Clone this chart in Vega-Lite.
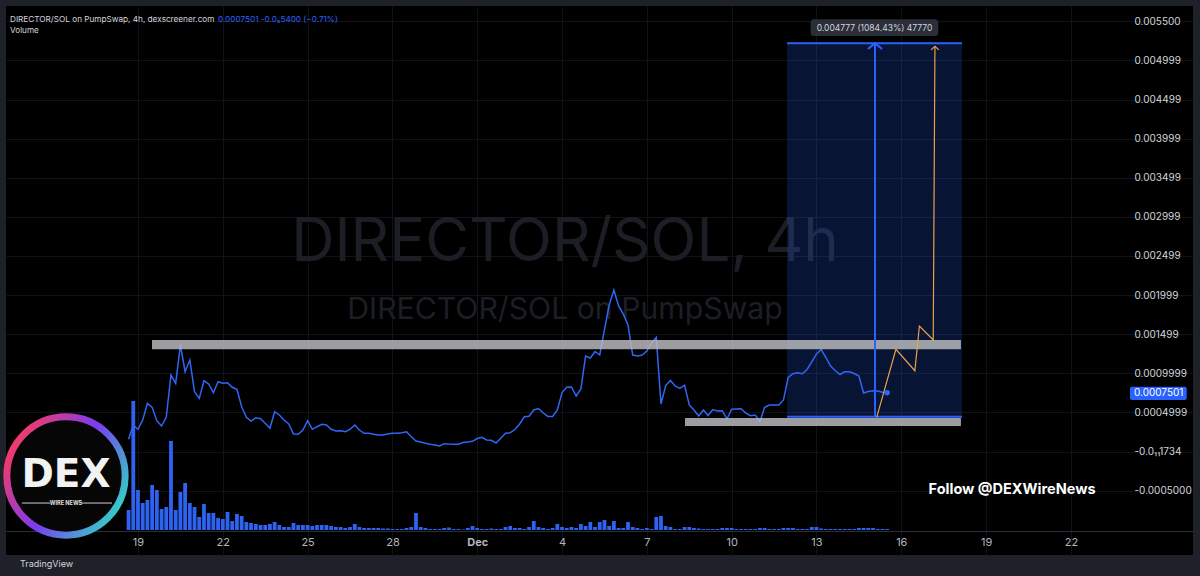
{
"$schema": "https://vega.github.io/schema/vega-lite/v6.json",
"width": 1187, "height": 549,
"autosize": {"type": "none"},
"padding": {"left": 6, "top": 6, "right": 7, "bottom": 21},
"background": "#1f2128",
"config": {"view": {"fill": "#000000", "stroke": null}, "font": "Inter", "text": {"font": "Inter"}},
"title": {"text": "TradingView", "orient": "bottom", "anchor": "start", "frame": "group", "offset": 5, "dx": 14, "color": "#d1d4dc", "fontSize": 9, "fontWeight": "normal", "font": "Inter"},
"datasets": {
"main": [
{"t":"2025-11-18T16:00Z","p":0.000156,"v":20},
{"t":"2025-11-18T20:00Z","p":0.000339,"v":129},
{"t":"2025-11-19T00:00Z","p":0.000284,"v":40},
{"t":"2025-11-19T04:00Z","p":0.000403,"v":27},
{"t":"2025-11-19T08:00Z","p":0.000616,"v":30},
{"t":"2025-11-19T12:00Z","p":0.000565,"v":45},
{"t":"2025-11-19T16:00Z","p":0.000394,"v":40},
{"t":"2025-11-19T20:00Z","p":0.000326,"v":21},
{"t":"2025-11-20T00:00Z","p":0.000437,"v":23},
{"t":"2025-11-20T04:00Z","p":0.000978,"v":89},
{"t":"2025-11-20T08:00Z","p":0.000872,"v":20},
{"t":"2025-11-20T12:00Z","p":0.001362,"v":38},
{"t":"2025-11-20T16:00Z","p":0.001020,"v":47},
{"t":"2025-11-20T20:00Z","p":0.001170,"v":27},
{"t":"2025-11-21T00:00Z","p":0.000765,"v":23},
{"t":"2025-11-21T04:00Z","p":0.000680,"v":13},
{"t":"2025-11-21T08:00Z","p":0.000905,"v":26},
{"t":"2025-11-21T12:00Z","p":0.000863,"v":17},
{"t":"2025-11-21T16:00Z","p":0.000752,"v":17},
{"t":"2025-11-21T20:00Z","p":0.000893,"v":12},
{"t":"2025-11-22T00:00Z","p":0.000872,"v":11},
{"t":"2025-11-22T04:00Z","p":0.000880,"v":18},
{"t":"2025-11-22T08:00Z","p":0.000821,"v":9},
{"t":"2025-11-22T12:00Z","p":0.000795,"v":16},
{"t":"2025-11-22T16:00Z","p":0.000573,"v":14},
{"t":"2025-11-22T20:00Z","p":0.000437,"v":8},
{"t":"2025-11-23T00:00Z","p":0.000390,"v":7},
{"t":"2025-11-23T04:00Z","p":0.000432,"v":6},
{"t":"2025-11-23T08:00Z","p":0.000419,"v":5},
{"t":"2025-11-23T12:00Z","p":0.000361,"v":5},
{"t":"2025-11-23T16:00Z","p":0.000297,"v":6},
{"t":"2025-11-23T20:00Z","p":0.000509,"v":8},
{"t":"2025-11-24T00:00Z","p":0.000467,"v":5},
{"t":"2025-11-24T04:00Z","p":0.000403,"v":3},
{"t":"2025-11-24T08:00Z","p":0.000352,"v":3},
{"t":"2025-11-24T12:00Z","p":0.000224,"v":7},
{"t":"2025-11-24T16:00Z","p":0.000220,"v":5},
{"t":"2025-11-24T20:00Z","p":0.000275,"v":5},
{"t":"2025-11-25T00:00Z","p":0.000394,"v":5},
{"t":"2025-11-25T04:00Z","p":0.000284,"v":4},
{"t":"2025-11-25T08:00Z","p":0.000317,"v":5},
{"t":"2025-11-25T12:00Z","p":0.000348,"v":5},
{"t":"2025-11-25T16:00Z","p":0.000339,"v":5},
{"t":"2025-11-25T20:00Z","p":0.000284,"v":4},
{"t":"2025-11-26T00:00Z","p":0.000262,"v":3},
{"t":"2025-11-26T04:00Z","p":0.000266,"v":3},
{"t":"2025-11-26T08:00Z","p":0.000253,"v":2},
{"t":"2025-11-26T12:00Z","p":0.000284,"v":3},
{"t":"2025-11-26T16:00Z","p":0.000339,"v":6},
{"t":"2025-11-26T20:00Z","p":0.000275,"v":3},
{"t":"2025-11-27T00:00Z","p":0.000233,"v":2},
{"t":"2025-11-27T04:00Z","p":0.000233,"v":2},
{"t":"2025-11-27T08:00Z","p":0.000220,"v":2},
{"t":"2025-11-27T12:00Z","p":0.000211,"v":2},
{"t":"2025-11-27T16:00Z","p":0.000211,"v":1.5},
{"t":"2025-11-27T20:00Z","p":0.000224,"v":1.5},
{"t":"2025-11-28T00:00Z","p":0.000233,"v":1},
{"t":"2025-11-28T04:00Z","p":0.000233,"v":1},
{"t":"2025-11-28T08:00Z","p":0.000240,"v":1},
{"t":"2025-11-28T12:00Z","p":0.000253,"v":2},
{"t":"2025-11-28T16:00Z","p":0.000189,"v":3},
{"t":"2025-11-28T20:00Z","p":0.000134,"v":17},
{"t":"2025-11-29T00:00Z","p":0.000121,"v":3},
{"t":"2025-11-29T04:00Z","p":0.000105,"v":2},
{"t":"2025-11-29T08:00Z","p":0.000092,"v":1},
{"t":"2025-11-29T12:00Z","p":0.000083,"v":1},
{"t":"2025-11-29T16:00Z","p":0.000070,"v":1},
{"t":"2025-11-29T20:00Z","p":0.000100,"v":2},
{"t":"2025-11-30T00:00Z","p":0.000096,"v":2.5},
{"t":"2025-11-30T04:00Z","p":0.000094,"v":1},
{"t":"2025-11-30T08:00Z","p":0.000092,"v":1},
{"t":"2025-11-30T12:00Z","p":0.000115,"v":0.5},
{"t":"2025-11-30T16:00Z","p":0.000121,"v":2},
{"t":"2025-11-30T20:00Z","p":0.000130,"v":4},
{"t":"2025-12-01T00:00Z","p":0.000166,"v":2},
{"t":"2025-12-01T04:00Z","p":0.000182,"v":1},
{"t":"2025-12-01T08:00Z","p":0.000147,"v":1},
{"t":"2025-12-01T12:00Z","p":0.000143,"v":1.5},
{"t":"2025-12-01T16:00Z","p":0.000109,"v":1},
{"t":"2025-12-01T20:00Z","p":0.000169,"v":1},
{"t":"2025-12-02T00:00Z","p":0.000233,"v":3},
{"t":"2025-12-02T04:00Z","p":0.000240,"v":4},
{"t":"2025-12-02T08:00Z","p":0.000281,"v":2},
{"t":"2025-12-02T12:00Z","p":0.000352,"v":2},
{"t":"2025-12-02T16:00Z","p":0.000445,"v":1},
{"t":"2025-12-02T20:00Z","p":0.000450,"v":3},
{"t":"2025-12-03T00:00Z","p":0.000531,"v":9},
{"t":"2025-12-03T04:00Z","p":0.000550,"v":3},
{"t":"2025-12-03T08:00Z","p":0.000492,"v":2},
{"t":"2025-12-03T12:00Z","p":0.000448,"v":1},
{"t":"2025-12-03T16:00Z","p":0.000448,"v":2},
{"t":"2025-12-03T20:00Z","p":0.000531,"v":6},
{"t":"2025-12-04T00:00Z","p":0.000754,"v":3},
{"t":"2025-12-04T04:00Z","p":0.000821,"v":2},
{"t":"2025-12-04T08:00Z","p":0.000825,"v":3},
{"t":"2025-12-04T12:00Z","p":0.000710,"v":2},
{"t":"2025-12-04T16:00Z","p":0.000799,"v":6},
{"t":"2025-12-04T20:00Z","p":0.001221,"v":4},
{"t":"2025-12-05T00:00Z","p":0.001196,"v":8},
{"t":"2025-12-05T04:00Z","p":0.001279,"v":3},
{"t":"2025-12-05T08:00Z","p":0.001234,"v":8},
{"t":"2025-12-05T12:00Z","p":0.001554,"v":10},
{"t":"2025-12-05T16:00Z","p":0.001873,"v":4},
{"t":"2025-12-05T20:00Z","p":0.002065,"v":9},
{"t":"2025-12-06T00:00Z","p":0.001861,"v":2},
{"t":"2025-12-06T04:00Z","p":0.001758,"v":2},
{"t":"2025-12-06T08:00Z","p":0.001618,"v":8},
{"t":"2025-12-06T12:00Z","p":0.001234,"v":3},
{"t":"2025-12-06T16:00Z","p":0.001221,"v":2},
{"t":"2025-12-06T20:00Z","p":0.001234,"v":1},
{"t":"2025-12-07T00:00Z","p":0.001285,"v":2},
{"t":"2025-12-07T04:00Z","p":0.001387,"v":1},
{"t":"2025-12-07T08:00Z","p":0.001458,"v":13},
{"t":"2025-12-07T12:00Z","p":0.000607,"v":14},
{"t":"2025-12-07T16:00Z","p":0.000844,"v":4},
{"t":"2025-12-07T20:00Z","p":0.000908,"v":3},
{"t":"2025-12-08T00:00Z","p":0.000838,"v":1},
{"t":"2025-12-08T04:00Z","p":0.000808,"v":1},
{"t":"2025-12-08T08:00Z","p":0.000848,"v":3},
{"t":"2025-12-08T12:00Z","p":0.000595,"v":3},
{"t":"2025-12-08T16:00Z","p":0.000531,"v":2},
{"t":"2025-12-08T20:00Z","p":0.000454,"v":1.5},
{"t":"2025-12-09T00:00Z","p":0.000531,"v":1},
{"t":"2025-12-09T04:00Z","p":0.000460,"v":1},
{"t":"2025-12-09T08:00Z","p":0.000537,"v":1},
{"t":"2025-12-09T12:00Z","p":0.000518,"v":1},
{"t":"2025-12-09T16:00Z","p":0.000522,"v":2},
{"t":"2025-12-09T20:00Z","p":0.000416,"v":2},
{"t":"2025-12-10T00:00Z","p":0.000540,"v":2},
{"t":"2025-12-10T04:00Z","p":0.000543,"v":1},
{"t":"2025-12-10T08:00Z","p":0.000546,"v":1},
{"t":"2025-12-10T12:00Z","p":0.000492,"v":1},
{"t":"2025-12-10T16:00Z","p":0.000457,"v":1},
{"t":"2025-12-10T20:00Z","p":0.000467,"v":1},
{"t":"2025-12-11T00:00Z","p":0.000384,"v":2},
{"t":"2025-12-11T04:00Z","p":0.000565,"v":2},
{"t":"2025-12-11T08:00Z","p":0.000595,"v":1},
{"t":"2025-12-11T12:00Z","p":0.000595,"v":1},
{"t":"2025-12-11T16:00Z","p":0.000595,"v":1},
{"t":"2025-12-11T20:00Z","p":0.000659,"v":2},
{"t":"2025-12-12T00:00Z","p":0.000946,"v":2},
{"t":"2025-12-12T04:00Z","p":0.000994,"v":2},
{"t":"2025-12-12T08:00Z","p":0.001006,"v":1},
{"t":"2025-12-12T12:00Z","p":0.000995,"v":1},
{"t":"2025-12-12T16:00Z","p":0.001049,"v":1},
{"t":"2025-12-12T20:00Z","p":0.001145,"v":3},
{"t":"2025-12-13T00:00Z","p":0.001247,"v":3},
{"t":"2025-12-13T04:00Z","p":0.001304,"v":1.5},
{"t":"2025-12-13T08:00Z","p":0.001202,"v":1},
{"t":"2025-12-13T12:00Z","p":0.001093,"v":1},
{"t":"2025-12-13T16:00Z","p":0.001032,"v":1},
{"t":"2025-12-13T20:00Z","p":0.000985,"v":1},
{"t":"2025-12-14T00:00Z","p":0.001020,"v":1},
{"t":"2025-12-14T04:00Z","p":0.001020,"v":1},
{"t":"2025-12-14T08:00Z","p":0.000997,"v":1},
{"t":"2025-12-14T12:00Z","p":0.000965,"v":2},
{"t":"2025-12-14T16:00Z","p":0.000748,"v":2},
{"t":"2025-12-14T20:00Z","p":0.000767,"v":2},
{"t":"2025-12-15T00:00Z","p":0.000776,"v":2},
{"t":"2025-12-15T04:00Z","p":0.000774,"v":1},
{"t":"2025-12-15T08:00Z","p":0.000757,"v":1},
{"t":"2025-12-15T12:00Z","p":0.0007501,"v":1}
]
},
"layer": [
{
"data": {"name": "main"},
"mark": {"type": "bar", "color": "#2d63f0", "width": 3.8},
"encoding": {
"x": {"field": "t", "type": "temporal", "title": null,
 "scale": {"padding": 0, "domain": [{"year":2025,"month":11,"date":14,"hours":7,"minutes":57,"utc":true},{"year":2025,"month":12,"date":26,"hours":7,"minutes":39,"utc":true}]},
 "axis": {"orient": "bottom", "offset": -24, "title": null, "ticks": false, "labelPadding": 5, "domainColor": "#2a2e39", "domainWidth": 1,
  "grid": true, "gridColor": "#101217", "labelColor": "#b2b5be", "labelFontSize": 11, "labelFont": "Inter", "labelFlush": false, "labelOverlap": false,
  "labelFontWeight": {"condition": {"test": "utcdate(datum.value) == 1", "value": "bold"}, "value": "normal"},
  "values": [
   {"year":2025,"month":11,"date":19,"utc":true},{"year":2025,"month":11,"date":22,"utc":true},{"year":2025,"month":11,"date":25,"utc":true},{"year":2025,"month":11,"date":28,"utc":true},
   {"year":2025,"month":12,"date":1,"utc":true},{"year":2025,"month":12,"date":4,"utc":true},{"year":2025,"month":12,"date":7,"utc":true},{"year":2025,"month":12,"date":10,"utc":true},
   {"year":2025,"month":12,"date":13,"utc":true},{"year":2025,"month":12,"date":16,"utc":true},{"year":2025,"month":12,"date":19,"utc":true},{"year":2025,"month":12,"date":22,"utc":true}],
  "labelExpr": "utcdate(datum.value) == 1 ? utcFormat(datum.value, '%b') : utcFormat(datum.value, '%-d')"}},
"y": {"field": "v", "type": "quantitative", "scale": {"domain": [-25, 524], "nice": false, "zero": false}, "axis": null},
"y2": {"datum": 0}
}
},
{
"layer": [
{
"data": {"values": [{"t": "2025-12-04T02:30Z", "p": 0.002666, "s": "DIRECTOR/SOL, 4h"}]},
"mark": {"type": "text", "fontSize": 60, "color": "#1c1e25", "align": "center", "baseline": "middle", "font": "Inter"},
"encoding": {"x": {"field": "t", "type": "temporal", "title": null}, "y": {"field": "p", "type": "quantitative", "title": null}, "text": {"field": "s"}}
},
{
"data": {"values": [{"t": "2025-12-04T02:30Z", "p": 0.001809, "s": "DIRECTOR/SOL on PumpSwap"}]},
"mark": {"type": "text", "fontSize": 30.2, "color": "#1c1e25", "align": "center", "baseline": "middle", "font": "Inter"},
"encoding": {"x": {"field": "t", "type": "temporal", "title": null}, "y": {"field": "p", "type": "quantitative", "title": null}, "text": {"field": "s"}}
},
{
"data": {"values": [{"t": "2025-12-11T23:00Z", "t2": "2025-12-18T03:33Z", "p": 0.000445, "p2": 0.005222}]},
"mark": {"type": "rect", "color": "#2962ff", "opacity": 0.2},
"encoding": {"x": {"field": "t", "type": "temporal", "title": null}, "x2": {"field": "t2"}, "y": {"field": "p", "type": "quantitative", "title": null}, "y2": {"field": "p2"}}
},
{
"data": {"name": "main"},
"mark": {"type": "line", "color": "#2f66f5", "strokeWidth": 1.5},
"encoding": {
"x": {"field": "t", "type": "temporal", "title": null},
"y": {"field": "p", "type": "quantitative", "title": null,
 "scale": {"domain": [-0.0013235, 0.0056969], "nice": false, "zero": false},
 "axis": {"orient": "right", "offset": -66, "title": null, "ticks": false, "domain": false, "labelPadding": 7, "grid": true, "gridColor": "#101217",
  "labelColor": "#d1d4dc", "labelFontSize": 10, "labelFont": "Inter", "labelAlign": "left", "labelBaseline": "middle", "labelOverlap": false, "labelFlush": false,
  "values": [0.0055, 0.005, 0.0045, 0.004, 0.0035, 0.003, 0.0025, 0.002, 0.0015, 0.001, 0.0005, 0, -0.0005],
  "labelExpr": "datum.value > 0.00525 ? '0.005500' : datum.value > 0.00475 ? '0.004999' : datum.value > 0.00425 ? '0.004499' : datum.value > 0.00375 ? '0.003999' : datum.value > 0.00325 ? '0.003499' : datum.value > 0.00275 ? '0.002999' : datum.value > 0.00225 ? '0.002499' : datum.value > 0.00175 ? '0.001999' : datum.value > 0.00125 ? '0.001499' : datum.value > 0.00075 ? '0.0009999' : datum.value > 0.00025 ? '0.0004999' : datum.value > -0.00025 ? '-0.0₁₁1734' : '-0.0005000'"}}
}
},
{
"data": {"values": [{"t": "2025-11-19T11:53Z", "t2": "2025-12-18T02:38Z", "p": 0.001307, "p2": 0.001426}, {"t": "2025-12-08T08:24Z", "t2": "2025-12-18T02:38Z", "p": 0.000326, "p2": 0.000428}]},
"mark": {"type": "rect", "color": "#b8b9bd", "opacity": 0.85},
"encoding": {"x": {"field": "t", "type": "temporal", "title": null}, "x2": {"field": "t2"}, "y": {"field": "p", "type": "quantitative", "title": null}, "y2": {"field": "p2"}}
},
{
"data": {"values": [{"t": "2025-12-11T23:00Z", "t2": "2025-12-18T03:33Z", "p": 0.005222}, {"t": "2025-12-11T23:00Z", "t2": "2025-12-18T03:33Z", "p": 0.000445}]},
"mark": {"type": "rule", "color": "#2962ff", "strokeWidth": 2},
"encoding": {"x": {"field": "t", "type": "temporal", "title": null}, "x2": {"field": "t2"}, "y": {"field": "p", "type": "quantitative", "title": null}}
},
{
"data": {"values": [{"t": "2025-12-15T01:41Z", "p": 0.000445, "p2": 0.005222}]},
"mark": {"type": "rule", "color": "#2962ff", "strokeWidth": 2},
"encoding": {"x": {"field": "t", "type": "temporal", "title": null}, "y": {"field": "p", "type": "quantitative", "title": null}, "y2": {"field": "p2"}}
},
{
"data": {"values": [
 {"o": 1, "t": "2025-12-15T03:07Z", "p": 0.000437},
 {"o": 2, "t": "2025-12-15T19:26Z", "p": 0.001307},
 {"o": 3, "t": "2025-12-16T11:31Z", "p": 0.001033},
 {"o": 4, "t": "2025-12-16T15:22Z", "p": 0.001605},
 {"o": 5, "t": "2025-12-17T03:07Z", "p": 0.001426},
 {"o": 6, "t": "2025-12-17T04:34Z", "p": 0.005180}]},
"mark": {"type": "line", "color": "#e8a04e", "strokeWidth": 1.2},
"encoding": {"x": {"field": "t", "type": "temporal", "title": null}, "y": {"field": "p", "type": "quantitative", "title": null}, "order": {"field": "o"}}
},
{
"data": {"values": [{"t": "2025-12-15T01:41Z", "p": 0.005222}]},
"mark": {"type": "point", "shape": "M-1,0.85L0,0L1,0.85", "filled": false, "size": 196, "stroke": "#2962ff", "strokeWidth": 2, "opacity": 1},
"encoding": {"x": {"field": "t", "type": "temporal", "title": null}, "y": {"field": "p", "type": "quantitative", "title": null}}
},
{
"data": {"values": [{"t": "2025-12-17T04:34Z", "p": 0.005180}]},
"mark": {"type": "point", "shape": "M-1,0.9L0,0L1,0.9", "filled": false, "size": 60, "stroke": "#e8a04e", "strokeWidth": 1.2, "opacity": 1},
"encoding": {"x": {"field": "t", "type": "temporal", "title": null}, "y": {"field": "p", "type": "quantitative", "title": null}}
},
{
"data": {"values": [{"t": "2025-12-12T19:05Z", "t2": "2025-12-17T07:25Z", "p": 0.005313, "p2": 0.005527}]},
"mark": {"type": "rect", "color": "#2a2e39", "cornerRadius": 3},
"encoding": {"x": {"field": "t", "type": "temporal", "title": null}, "x2": {"field": "t2"}, "y": {"field": "p", "type": "quantitative", "title": null}, "y2": {"field": "p2"}}
},
{
"data": {"values": [{"t": "2025-12-15T01:15Z", "p": 0.005420, "s": "0.004777 (1084.43%) 47770"}]},
"mark": {"type": "text", "fontSize": 8.5, "color": "#d1d4dc", "align": "center", "baseline": "middle", "font": "Inter"},
"encoding": {"x": {"field": "t", "type": "temporal", "title": null}, "y": {"field": "p", "type": "quantitative", "title": null}, "text": {"field": "s"}}
},
{
"data": {"values": [{"t": "2025-12-15T12:00Z", "p": 0.0007501}]},
"mark": {"type": "point", "filled": true, "size": 30, "color": "#2f66f5", "opacity": 1},
"encoding": {"x": {"field": "t", "type": "temporal", "title": null}, "y": {"field": "p", "type": "quantitative", "title": null}}
},
{
"data": {"values": [{"t": "2025-12-24T02:10Z", "t2": "2025-12-26T02:18Z", "p": 0.000659, "p2": 0.000829}]},
"mark": {"type": "rect", "color": "#2962ff", "cornerRadius": 2},
"encoding": {"x": {"field": "t", "type": "temporal", "title": null}, "x2": {"field": "t2"}, "y": {"field": "p", "type": "quantitative", "title": null}, "y2": {"field": "p2"}}
},
{
"data": {"values": [{"t": "2025-12-24T05:31Z", "p": 0.0007501, "s": "0.0007501"}]},
"mark": {"type": "text", "fontSize": 10, "color": "#ffffff", "align": "left", "baseline": "middle", "font": "Inter"},
"encoding": {"x": {"field": "t", "type": "temporal", "title": null}, "y": {"field": "p", "type": "quantitative", "title": null}, "text": {"field": "s"}}
},
{
"data": {"values": [{"t": "2025-12-19T22:05Z", "p": -0.000492, "s": "Follow @DEXWireNews"}]},
"mark": {"type": "text", "fontSize": 14.5, "fontWeight": "bold", "color": "#ffffff", "align": "center", "baseline": "middle", "font": "Inter"},
"encoding": {"x": {"field": "t", "type": "temporal", "title": null}, "y": {"field": "p", "type": "quantitative", "title": null}, "text": {"field": "s"}}
},
{
"data": {"values": [{"t": "2025-11-16T10:53Z", "p": -0.000313}]},
"mark": {"type": "point", "shape": "circle", "size": 14000, "filled": true, "fill": "#060606", "opacity": 1, "strokeWidth": 7,
 "stroke": {"gradient": "linear", "x1": 0, "y1": 0.2, "x2": 1, "y2": 0.8, "stops": [{"offset": 0, "color": "#ff3b5c"}, {"offset": 0.5, "color": "#7a3cf0"}, {"offset": 1, "color": "#2fd9c4"}]}},
"encoding": {"x": {"field": "t", "type": "temporal", "title": null}, "y": {"field": "p", "type": "quantitative", "title": null}}
},
{
"data": {"values": [{"t": "2025-11-16T10:53Z", "p": -0.000300, "s": "DEX"}]},
"mark": {"type": "text", "fontSize": 39, "fontWeight": "bold", "color": "#f2f2f2", "align": "center", "baseline": "middle", "font": "DejaVu Sans"},
"encoding": {"x": {"field": "t", "type": "temporal", "title": null}, "y": {"field": "p", "type": "quantitative", "title": null}, "text": {"field": "s"}}
},
{
"data": {"values": [{"t": "2025-11-16T10:53Z", "p": -0.000659, "s": "WIRE NEWS"}]},
"mark": {"type": "text", "fontSize": 5.5, "fontWeight": "bold", "color": "#e0e0e0", "align": "center", "baseline": "middle", "font": "Inter"},
"encoding": {"x": {"field": "t", "type": "temporal", "title": null}, "y": {"field": "p", "type": "quantitative", "title": null}, "text": {"field": "s"}}
},
{
"data": {"values": [{"t": "2025-11-14T21:32Z", "t2": "2025-11-15T21:17Z", "p": -0.000659}, {"t": "2025-11-17T00:27Z", "t2": "2025-11-18T01:55Z", "p": -0.000659}]},
"mark": {"type": "rule", "color": "#d0d0d0", "strokeWidth": 1},
"encoding": {"x": {"field": "t", "type": "temporal", "title": null}, "x2": {"field": "t2"}, "y": {"field": "p", "type": "quantitative", "title": null}}
},
{
"data": {"values": [{"t": "2025-11-14T11:20Z", "p": 0.005518, "s": "DIRECTOR/SOL on PumpSwap, 4h, dexscreener.com"}, {"t": "2025-11-14T11:20Z", "p": 0.005377, "s": "Volume"}]},
"mark": {"type": "text", "fontSize": 8.2, "color": "#d1d4dc", "align": "left", "baseline": "middle", "font": "Inter"},
"encoding": {"x": {"field": "t", "type": "temporal", "title": null}, "y": {"field": "p", "type": "quantitative", "title": null}, "text": {"field": "s"}}
},
{
"data": {"values": [{"t": "2025-11-21T19:55Z", "p": 0.005518, "s": "0.0007501  -0.0₅5400 (−0.71%)"}]},
"mark": {"type": "text", "fontSize": 8.2, "color": "#2962ff", "align": "left", "baseline": "middle", "font": "Inter"},
"encoding": {"x": {"field": "t", "type": "temporal", "title": null}, "y": {"field": "p", "type": "quantitative", "title": null}, "text": {"field": "s"}}
}
]
}
],
"resolve": {"scale": {"y": "independent"}}
}
